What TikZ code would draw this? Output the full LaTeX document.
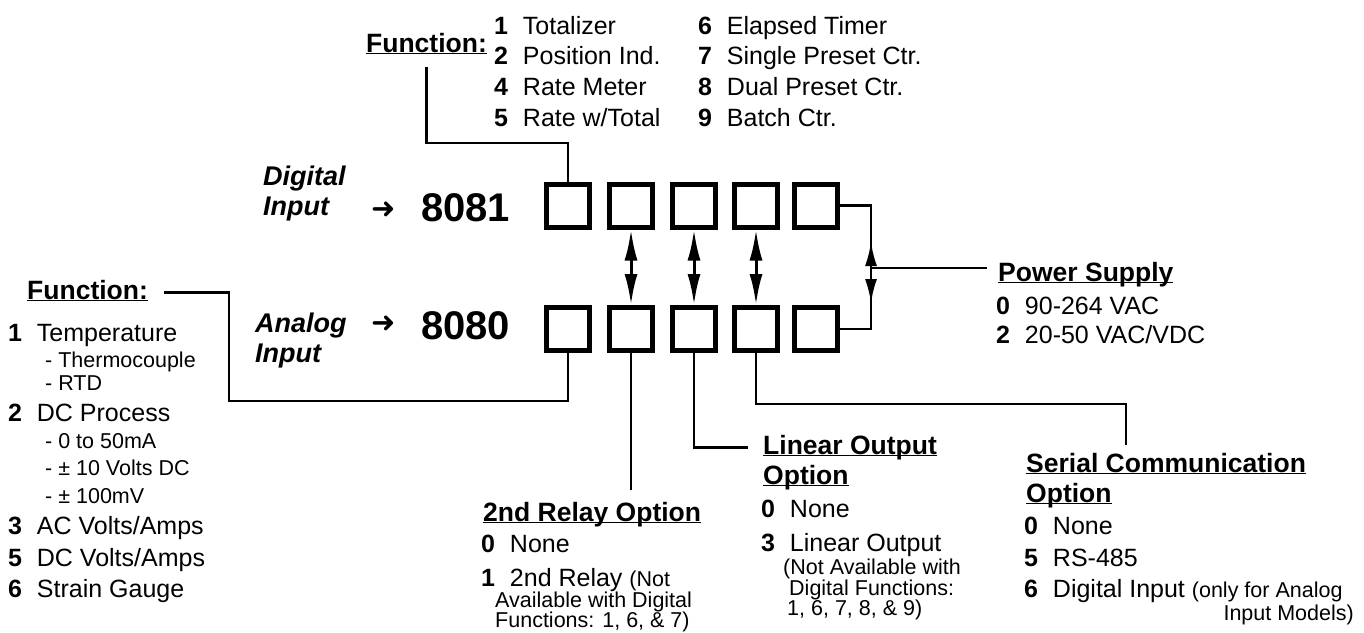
\documentclass[tikz,border=0pt]{standalone}
\usepackage{fontspec}
\setmainfont{Liberation Sans}
\newfontfamily\symfont{DejaVu Sans}
\usetikzlibrary{arrows.meta}

\newcommand{\opt}[2]{\makebox[1.15em][l]{\bfseries #1}#2}
\newcommand{\hd}[1]{\underline{\smash{#1}}\vphantom{Ag}}
\newcommand{\sm}[1]{{\fontsize{21.5}{25}\selectfont #1}}

\tikzset{
  digit/.style={draw, line width=5pt, minimum width=43pt, minimum height=43pt, inner sep=0pt},
  wire/.style={line width=2.5pt},
  swap/.style={line width=3pt, {Latex[length=31pt,width=13pt]}-{Latex[length=31pt,width=13pt]}},
  tip/.style={line width=2.5pt, -{Latex[length=24pt,width=12pt]}},
  txt/.style={anchor=base west, inner sep=0pt, font=\fontsize{25}{30}\selectfont},
  small/.style={anchor=base west, inner sep=0pt, font=\fontsize{21.5}{25}\selectfont},
  hdr/.style={anchor=base west, inner sep=0pt, font=\fontsize{26.5}{31}\selectfont\bfseries},
  model/.style={anchor=base west, inner sep=0pt, font=\fontsize{27}{31}\selectfont\bfseries\itshape},
  num/.style={anchor=base west, inner sep=0pt, font=\fontsize{40}{44}\selectfont\bfseries},
  pointer/.style={anchor=center, inner sep=0pt, font=\fontsize{29}{32}\symfont}
}

\begin{document}
\begin{tikzpicture}[x=1pt,y=-1pt]
  \useasboundingbox (0,0) rectangle (1364,632);

  % model numbers
  \node[model] (dig)  at (263,185) {Digital};
  \node[model] (digi) at (263,215) {Input};
  \node[model] (ana)  at (255,332) {Analog};
  \node[model] (anai) at (255,362) {Input};
  \node[pointer] (pd) at (384,210) {➜};
  \node[pointer] (pa) at (384,324) {➜};
  \node[num] (m8081) at (421,221) {8081};
  \node[num] (m8080) at (421,339) {8080};

  % the five option digits
  \node[digit] (t1) at (568,205.5) {};
  \node[digit] (t2) at (631,205.5) {};
  \node[digit] (t3) at (694,205.5) {};
  \node[digit] (t4) at (756,205.5) {};
  \node[digit] (t5) at (816,205.5) {};
  \node[digit] (b1) at (568,329) {};
  \node[digit] (b2) at (631,329) {};
  \node[digit] (b3) at (694,329) {};
  \node[digit] (b4) at (756,329) {};
  \node[digit] (b5) at (816,329) {};

  \draw[swap] (t2.south) -- (b2.north);
  \draw[swap] (t3.south) -- (b3.north);
  \draw[swap] (t4.south) -- (b4.north);

  % digital function
  \node[hdr, anchor=base east] (tfun) at (487,52) {\hd{Function:}};
  \node[txt] (f1) at (494,34)  {\opt{1}{Totalizer}};
  \node[txt] (f2) at (494,64)  {\opt{2}{Position Ind.}};
  \node[txt] (f4) at (494,95)  {\opt{4}{Rate Meter}};
  \node[txt] (f5) at (494,126) {\opt{5}{Rate w/Total}};
  \node[txt] (f6) at (698,34)  {\opt{6}{Elapsed Timer}};
  \node[txt] (f7) at (698,64)  {\opt{7}{Single Preset Ctr.}};
  \node[txt] (f8) at (698,95)  {\opt{8}{Dual Preset Ctr.}};
  \node[txt] (f9) at (698,126) {\opt{9}{Batch Ctr.}};
  \draw[wire] (tfun.south) ++(0,9) -- ++(0,76) -| (t1.north);

  % analog function
  \node[hdr] (lfun) at (27,299) {\hd{Function:}};
  \node[txt]   (a1)  at (8,341)  {\opt{1}{Temperature}};
  \node[small] (a1a) at (45,367) {- Thermocouple};
  \node[small] (a1b) at (45,390) {- RTD};
  \node[txt]   (a2)  at (8,421)  {\opt{2}{DC Process}};
  \node[small] (a2a) at (45,448) {- 0 to 50mA};
  \node[small] (a2b) at (45,475) {- ± 10 Volts DC};
  \node[small] (a2c) at (45,503) {- ± 100mV};
  \node[txt]   (a3)  at (8,534)  {\opt{3}{AC Volts/Amps}};
  \node[txt]   (a5)  at (8,566)  {\opt{5}{DC Volts/Amps}};
  \node[txt]   (a6)  at (8,597)  {\opt{6}{Strain Gauge}};
  \coordinate (lc) at (229,401);
  \draw[wire] ([xshift=16pt]lfun.east) -| (lc) -| (b1.south);

  % 2nd relay
  \node[hdr] (rel) at (483,521) {\hd{2nd Relay Option}};
  \node[txt] (r0) at (481,552) {\opt{0}{None}};
  \node[txt] (r1) at (481,586) {\opt{1}{2nd Relay \sm{(Not}}};
  \node[small] (r1a) at (495,607) {Available with Digital};
  \node[small] (r1b) at (495,627) {Functions: 1, 6, \& 7)};
  \draw[wire] (b2.south) -- ++(0,137);

  % linear output
  \node[hdr] (lin)  at (763,454) {\hd{Linear Output}};
  \node[hdr] (lino) at (763,484) {\hd{Option}};
  \node[txt] (l0) at (761,517) {\opt{0}{None}};
  \node[txt] (l3) at (761,551) {\opt{3}{Linear Output}};
  \node[small] (l3a) at (783,574) {(Not Available with};
  \node[small] (l3b) at (789,595) {Digital Functions:};
  \node[small] (l3c) at (787,615) {1, 6, 7, 8, \& 9)};
  \draw[wire] (b3.south) |- ([xshift=-15pt]lin.west);

  % serial communication
  \node[hdr] (ser)  at (1026,472) {\hd{Serial Communication}};
  \node[hdr] (sero) at (1026,502) {\hd{Option}};
  \node[txt] (s0) at (1024,534) {\opt{0}{None}};
  \node[txt] (s5) at (1024,566) {\opt{5}{RS-485}};
  \node[txt] (s6) at (1024,597) {\opt{6}{Digital Input \sm{(only for Analog}}};
  \node[small, anchor=base east] (s6a) at (1354,620) {Input Models)};
  \coordinate (sc) at (1126,445);
  \draw[wire] (b4.south) -- ++(0,51) -| (sc);

  % power supply
  \node[hdr] (pwr) at (998,281) {\hd{Power Supply}};
  \node[txt] (p0) at (996,314) {\opt{0}{90-264 VAC}};
  \node[txt] (p2) at (996,343) {\opt{2}{20-50 VAC/VDC}};
  \coordinate (pj) at (871,268);
  \coordinate (pup) at (871,242);
  \coordinate (pdn) at (871,303);
  \draw[wire] (t5.east) -| (pj) |- (b5.east);
  \draw[tip] (pj) -- (pup);
  \draw[tip] (pj) -- (pdn);
  \draw[wire] (pj) -- ([xshift=-11pt]pj -| pwr.west);
\end{tikzpicture}
\end{document}
